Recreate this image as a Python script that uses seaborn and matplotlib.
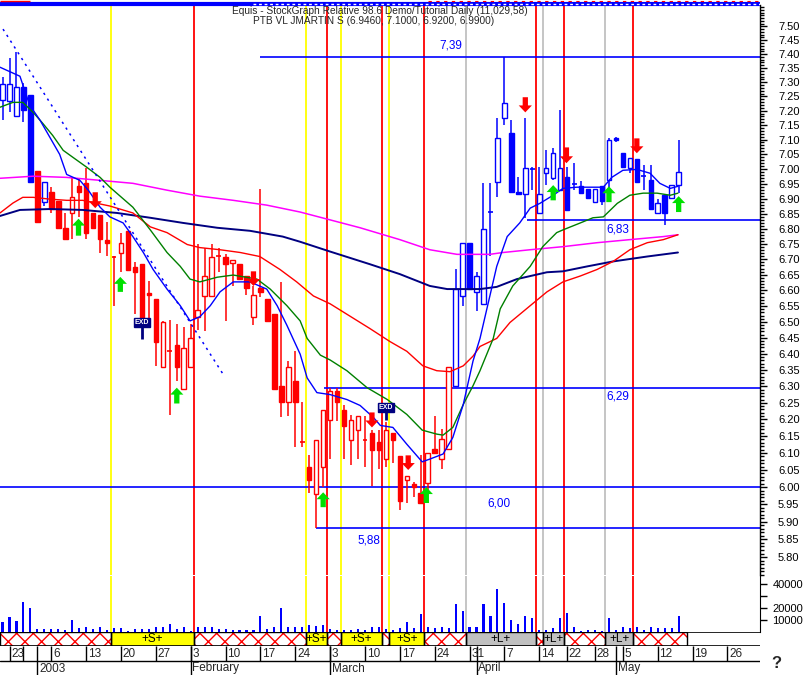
import matplotlib
matplotlib.use('Agg')
import matplotlib.pyplot as plt
import matplotlib.ticker as mticker
from matplotlib.patches import Rectangle
import numpy as np
import seaborn as sns

sns.set_style('white')
plt.rcParams['font.family'] = ['Liberation Sans', 'DejaVu Sans']
plt.rcParams['hatch.linewidth'] = 1.0

BLUE = '#0000ff'
RED = '#ff0000'
NAVY = '#000080'
GREEN_MA = '#008000'
MAGENTA = '#ff00ff'
YELLOW = '#ffff00'
GRAY = '#c0c0c0'
ARROW_GREEN = '#00e000'

# ---------------- data (trading-day index, Dec 20 2002 = -1) ----------------
first_day = -1
opens = [7.236, 7.233, 7.180, 7.282, 7.254, 6.992, 6.888, 6.921, 6.891, 6.803,
         6.852, 6.941, 6.951, 6.852, 6.845, 6.764, 6.709, 6.722, 6.793, 6.674,
         6.684, 6.590, 6.573, 6.360, 6.411, 6.426, 6.293, 6.360, 6.516, 6.582,
         6.582, 6.711, 6.706, 6.687, 6.684, 6.646, 6.516, 6.608, 6.573, 6.526,
         6.302, 6.251, 6.317, 6.133, 6.060, 5.980, 6.058, 6.197, 6.287, 6.227,
         6.138, 6.167, 6.141, 6.159, 6.133, 6.082, 6.159, 6.091, 6.020, 6.009,
         5.983, 6.012, 6.111, 6.082, 6.111, 6.302, 6.582, 6.754, 6.595, 6.557,
         6.857, 6.955, 7.173, 7.121, 6.921, 6.914, 7.002, 6.852, 6.985, 6.968,
         6.928, 6.972, 6.951, 6.941, 6.931, 6.888, 6.941, 6.961, 7.104, 7.053,
         7.002, 7.033, 6.978, 6.961, 6.852, 6.911, 6.901, 6.946]
highs = [7.318, 7.386, 7.407, 7.296, 7.254, 6.992, 6.955, 6.938, 6.891, 6.852,
         6.968, 6.965, 7.002, 6.852, 6.845, 6.822, 6.709, 6.787, 6.793, 6.690,
         6.684, 6.630, 6.573, 6.503, 6.506, 6.494, 6.485, 6.494, 6.751, 6.738,
         6.751, 6.738, 6.716, 6.697, 6.684, 6.646, 6.614, 6.931, 6.573, 6.526,
         6.627, 6.378, 6.408, 6.251, 6.095, 6.138, 6.227, 6.296, 6.296, 6.242,
         6.212, 6.209, 6.209, 6.168, 6.168, 6.192, 6.159, 6.091, 6.032, 6.015,
         6.093, 6.099, 6.209, 6.171, 6.360, 6.667, 6.754, 6.754, 6.658, 6.951,
         6.951, 7.173, 7.390, 7.166, 6.972, 7.173, 7.005, 7.005, 7.063, 7.070,
         7.201, 7.005, 7.019, 6.960, 6.931, 6.931, 6.941, 7.104, 7.110, 7.053,
         7.036, 7.033, 7.012, 7.012, 6.900, 6.911, 6.945, 7.100]
lows = [7.166, 7.197, 7.180, 7.159, 6.955, 6.822, 6.874, 6.852, 6.803, 6.767,
        6.767, 6.839, 6.767, 6.803, 6.722, 6.709, 6.551, 6.658, 6.664, 6.526,
        6.503, 6.503, 6.363, 6.360, 6.212, 6.317, 6.293, 6.360, 6.473, 6.470,
        6.582, 6.658, 6.503, 6.614, 6.636, 6.585, 6.489, 6.579, 6.503, 6.293,
        6.206, 6.209, 6.118, 6.118, 5.982, 5.883, 6.000, 6.082, 6.194, 6.082,
        6.065, 6.082, 6.060, 6.003, 6.053, 6.058, 6.070, 5.934, 5.954, 5.971,
        5.954, 5.990, 6.099, 6.053, 6.111, 6.302, 6.551, 6.604, 6.535, 6.557,
        6.709, 6.904, 7.150, 6.921, 6.914, 6.836, 6.928, 6.852, 6.945, 6.961,
        6.928, 6.862, 6.928, 6.918, 6.901, 6.888, 6.878, 6.894, 7.090, 7.005,
        6.985, 6.955, 6.928, 6.865, 6.852, 6.813, 6.900, 6.920]
closes = [7.293, 7.293, 7.282, 7.204, 6.955, 6.822, 6.955, 6.865, 6.803, 6.767,
          6.904, 6.921, 6.787, 6.803, 6.767, 6.754, 6.707, 6.754, 6.664, 6.658,
          6.503, 6.585, 6.438, 6.498, 6.408, 6.360, 6.417, 6.448, 6.538, 6.646,
          6.706, 6.709, 6.684, 6.697, 6.636, 6.608, 6.585, 6.595, 6.503, 6.293,
          6.251, 6.360, 6.251, 6.130, 6.020, 6.138, 6.227, 6.287, 6.251, 6.179,
          6.197, 6.209, 6.138, 6.108, 6.108, 6.168, 6.138, 5.960, 6.032, 6.000,
          5.954, 6.099, 6.099, 6.141, 6.360, 6.604, 6.754, 6.604, 6.646, 6.800,
          6.855, 7.104, 7.226, 6.921, 6.914, 7.002, 6.998, 6.914, 7.002, 7.053,
          7.002, 6.862, 6.948, 6.918, 6.901, 6.931, 6.891, 7.097, 7.097, 7.005,
          7.036, 6.955, 6.975, 6.865, 6.884, 6.852, 6.945, 6.990]
candle_side = ('bbbbbrbrrrrrrrrrrrrrrrrrrrrrrrrrrrrrrrrrrrrrrrrrrrrrrrrrrrrrrrrrr'
               'bbbbbbbbbbbbbbbbbbbbbbbbbbbbbbbbb')
volumes = [8600, 12200, 9200, 24700, 19700, 2200, 2200, 2500, 2500, 1400,
           10000, 3600, 4200, 2200, 4200, 1900, 3600, 3300, 1100, 2500,
           2800, 2500, 4200, 4200, 6900, 2500, 4200, 1100, 3900, 4400,
           4400, 2500, 2500, 1700, 1400, 1400, 1900, 13300, 2500, 4400,
           19700, 4200, 4200, 4200, 5800, 5000, 5800, 2200, 1700, 1700,
           1900, 2500, 1700, 4200, 4200, 2500, 1700, 3100, 8600, 3100,
           14700, 4200, 3100, 4200, 3100, 23000, 17500, 4200, 4200, 23000,
           13300, 36000, 24400, 10000, 6400, 13300, 11400, 1700, 1700, 3100,
           11400, 15600, 4400, 1100, 1700, 1700, 800, 11900, 1700, 3900,
           3600, 3900, 1700, 3900, 3100, 3100, 3100, 13300]

ma_blue_x = [-1.36, 1.5, 2.9, 4.4, 7.2, 8.2, 10.1, 11.3, 13.0, 14.4, 16.3, 17.7, 19.2, 20.6,
             22.6, 24.5, 25.9, 27.3, 28.8, 30.2, 32.1, 34.5, 36.9, 38.4, 39.8, 41.7, 42.7,
             44.1, 46.0, 48.4, 50.3, 52.2, 53.2, 55.0, 57.0, 59.2, 60.3, 62.2, 63.6, 65.1,
             66.5, 67.5, 69.9, 71.4, 73.2, 74.7, 76.1, 78.0, 79.4, 81.4, 83.3, 85.2, 86.4,
             88.0, 90.0, 91.9, 93.3, 94.8, 95.9]
ma_blue_y = [7.353, 7.321, 7.219, 7.166, 7.049, 6.981, 6.961, 6.928, 6.871, 6.839, 6.819,
             6.774, 6.722, 6.667, 6.604, 6.551, 6.503, 6.516, 6.551, 6.595, 6.627, 6.627,
             6.604, 6.551, 6.489, 6.399, 6.326, 6.281, 6.275, 6.260, 6.242, 6.206, 6.182,
             6.176, 6.126, 6.074, 6.082, 6.097, 6.146, 6.245, 6.378, 6.448, 6.677, 6.774,
             6.819, 6.868, 6.884, 6.911, 6.934, 6.938, 6.938, 6.938, 6.971, 6.995, 6.998,
             6.985, 6.951, 6.934, 6.941]
ma_green_x = [-1.36, 0.5, 1.9, 3.4, 4.8, 6.2, 7.7, 9.1, 11.1, 13.0, 14.4, 17.7, 20.2, 22.6,
              24.5, 25.9, 27.3, 29.8, 32.1, 35.5, 37.4, 39.8, 41.7, 42.7, 44.6, 46.0, 48.4,
              51.3, 54.2, 57.0, 59.2, 61.3, 62.2, 63.6, 65.1, 66.5, 67.5, 69.4, 70.4, 72.2,
              74.7, 76.5, 78.5, 79.4, 81.9, 83.7, 85.2, 87.2, 89.0, 90.9, 92.9, 94.8, 95.9]
ma_green_y = [7.212, 7.229, 7.229, 7.194, 7.155, 7.114, 7.063, 7.039, 7.005, 6.971, 6.938,
              6.871, 6.796, 6.722, 6.677, 6.636, 6.627, 6.642, 6.649, 6.636, 6.604, 6.551,
              6.503, 6.448, 6.396, 6.381, 6.348, 6.296, 6.260, 6.215, 6.168, 6.156, 6.153,
              6.176, 6.245, 6.302, 6.348, 6.448, 6.541, 6.614, 6.677, 6.741, 6.787, 6.796,
              6.819, 6.836, 6.839, 6.884, 6.911, 6.918, 6.918, 6.911, 6.918]
ma_red_x = [-1.36, 0.5, 1.9, 3.4, 5.8, 8.2, 10.5, 14.4, 17.7, 20.2, 22.6, 25.5, 27.3, 30.2,
            33.1, 35.9, 38.8, 41.2, 43.6, 46.0, 51.7, 54.6, 57.0, 59.3, 61.3, 63.2, 65.1,
            66.5, 67.5, 69.9, 71.8, 74.7, 77.1, 79.4, 81.9, 84.3, 86.6, 89.0, 91.5, 93.8, 95.9]
ma_red_y = [6.852, 6.885, 6.904, 6.904, 6.898, 6.894, 6.894, 6.875, 6.852, 6.806, 6.787,
            6.748, 6.738, 6.731, 6.722, 6.709, 6.667, 6.627, 6.582, 6.557, 6.479, 6.438,
            6.408, 6.363, 6.348, 6.345, 6.363, 6.393, 6.423, 6.448, 6.498, 6.551, 6.595,
            6.627, 6.646, 6.667, 6.693, 6.731, 6.754, 6.764, 6.780]
ma_magenta_x = [-1.36, 3.4, 8.2, 13.0, 17.7, 22.6, 27.3, 32.1, 36.9, 41.7, 46.0, 50.3, 56.0,
                60.3, 64.2, 68.9, 70.8, 74.7, 79.4, 84.3, 89.0, 93.8, 95.9]
ma_magenta_y = [6.968, 6.975, 6.971, 6.961, 6.951, 6.928, 6.908, 6.894, 6.878, 6.855, 6.829,
                6.803, 6.764, 6.731, 6.716, 6.716, 6.722, 6.731, 6.741, 6.754, 6.764, 6.774,
                6.780]
ma_navy_x = [-1.36, 1.5, 5.8, 10.5, 15.4, 20.2, 24.9, 29.8, 34.5, 39.2, 41.7, 46.0, 51.7,
             56.0, 60.3, 62.8, 67.5, 69.9, 72.8, 77.1, 79.4, 82.9, 86.6, 91.5, 95.9]
ma_navy_y = [6.842, 6.862, 6.865, 6.862, 6.852, 6.836, 6.819, 6.803, 6.793, 6.774, 6.757,
             6.725, 6.684, 6.652, 6.614, 6.604, 6.604, 6.611, 6.636, 6.658, 6.661, 6.677,
             6.693, 6.709, 6.722]

trend_x = [-0.93, 30.8]
trend_y = [7.490, 6.332]

level_values = [7.39, 6.83, 6.295, 6.00, 5.883]
level_starts = [35.9, 74.3, 45.1, -1.4, 44.0]
level_texts = ['7,39', '6,83', '6,29', '6,00', '5,88']
level_text_x = [63.3, 87.3, 87.3, 70.2, 51.6]
level_text_y = [7.43, 6.796, 6.269, 5.954, 5.848]

yellow_lines = [14.5, 42.5, 47.5, 54.5]
red_lines = [26.5, 45.5, 53.5, 59.5, 75.5, 79.5, 89.5]
gray_lines = [65.5, 76.5, 85.5]

up_arrow_x = [9.9, 15.9, 24.0, 45.0, 59.8, 78.0, 86.0, 96.0]
up_arrow_tip = [6.833, 6.643, 6.296, 5.985, 6.000, 6.945, 6.941, 6.908]
up_arrow_base = [6.777, 6.595, 6.248, 5.942, 5.954, 6.894, 6.888, 6.855]
down_arrow_x = [12.3, 35.0, 52.0, 57.2, 74.0, 79.9, 90.0]
down_arrow_base = [6.921, 6.661, 6.221, 6.093, 7.247, 7.073, 7.104]
down_arrow_tip = [6.868, 6.614, 6.176, 6.050, 7.194, 7.019, 7.053]

exd_x = [19.0, 54.0]
exd_y = [6.497, 6.236]
exd_stem = [6.445, 6.197]

signal_bounds = [-1.363, 14.5, 26.5, 42.5, 45.5, 47.5, 53.5, 54.5, 59.5, 65.5,
                 75.5, 76.5, 79.5, 85.5, 89.5, 97.2]
signal_kinds = ['', 'S', '', 'S', '', 'S', '', 'S', '', 'L', '', 'L', '', 'L', '']

date_ticks = [0, 2, 6, 11, 16, 21, 26, 31, 36, 41, 46, 51, 56, 61, 66, 71, 76, 80, 84,
              88, 93, 98, 103]
date_labels = ['23', '', '6', '13', '20', '27', '3', '10', '17', '24', '3', '10', '17',
               '24', '31', '7', '14', '22', '28', '5', '12', '19', '26']
month_ticks = [4, 26, 46, 67, 87]
month_labels = ['2003', 'February', 'March', 'April', 'May']

header_line1 = 'Equis - StockGraph Relative 98.6 Demo/Tutorial Daily (11,029,58)'
header_line2 = 'PTB VL JMARTIN S (6.9460, 7.1000, 6.9200, 6.9900)'

# ---------------- figure layout ----------------
W, H = 807, 675
X_LO, X_HI = -1.363, 107.67
fig = plt.figure(figsize=(W / 100, H / 100), dpi=100)
fig.patch.set_facecolor('white')


def box(top, bottom, right=760):
    return [0, 1 - bottom / H, right / W, (bottom - top) / H]


ax = fig.add_axes(box(5, 575))
axv = fig.add_axes(box(576, 632))
axs = fig.add_axes(box(632, 646))
axd = fig.add_axes(box(646, 675))
axt = fig.add_axes(box(0, 7))
for a in (ax, axv, axs, axd, axt):
    a.patch.set_visible(False)
    for s in a.spines.values():
        s.set_visible(False)
    a.set_xlim(X_LO, X_HI)

days = np.arange(first_day, first_day + len(opens))

# ---------------- price panel ----------------
ax.set_yscale('log')
for xs_, col in [(yellow_lines, YELLOW), (red_lines, RED), (gray_lines, GRAY)]:
    for x in xs_:
        ax.axvline(x, color=col, lw=1.3, zorder=1)
        axv.axvline(x, color=col, lw=1.3, zorder=1)

for lv, st in zip(level_values, level_starts):
    ax.hlines(lv, st, X_HI, color=BLUE, lw=1.2, zorder=2)
for t, tx, ty in zip(level_texts, level_text_x, level_text_y):
    ax.text(tx, ty, t, color=BLUE, fontsize=8.5, ha='center', va='center', zorder=7)

for xs, ys, col, lw in [(ma_magenta_x, ma_magenta_y, MAGENTA, 1.1),
                        (ma_navy_x, ma_navy_y, NAVY, 1.4),
                        (ma_red_x, ma_red_y, RED, 1.0),
                        (ma_green_x, ma_green_y, GREEN_MA, 1.0),
                        (ma_blue_x, ma_blue_y, BLUE, 1.0)]:
    sns.lineplot(x=xs, y=ys, ax=ax, color=col, linewidth=lw, estimator=None,
                 sort=False, legend=False, zorder=5)

ax.plot(trend_x, trend_y, color=BLUE, lw=1.1, linestyle=(0, (1.5, 3)), zorder=5)

for d, o, h, l, c, side in zip(days, opens, highs, lows, closes, candle_side):
    col = BLUE if side == 'b' else RED
    ax.vlines(d, l, h, color=col, lw=1.1, zorder=3)
    lo, hi = min(o, c), max(o, c)
    if hi - lo < 0.004:
        ax.hlines((o + c) / 2, d - 0.35, d + 0.35, color=col, lw=1.2, zorder=4)
    else:
        ax.bar(d, hi - lo, bottom=lo, width=0.65,
               facecolor='white' if c > o else col, edgecolor=col, lw=1.0, zorder=4)

arrow_style = 'simple,head_length=0.5,head_width=0.95,tail_width=0.38'
for x, tip, base in zip(up_arrow_x, up_arrow_tip, up_arrow_base):
    ax.annotate('', xy=(x, tip), xytext=(x, base),
                arrowprops=dict(arrowstyle=arrow_style, fc=ARROW_GREEN, ec=ARROW_GREEN, lw=0,
                                shrinkA=0, shrinkB=0, mutation_scale=10), zorder=6)
for x, tip, base in zip(down_arrow_x, down_arrow_tip, down_arrow_base):
    ax.annotate('', xy=(x, tip), xytext=(x, base),
                arrowprops=dict(arrowstyle=arrow_style, fc=RED, ec=RED, lw=0,
                                shrinkA=0, shrinkB=0, mutation_scale=10), zorder=6)

for x, y, s in zip(exd_x, exd_y, exd_stem):
    ax.vlines(x, s, y, color=NAVY, lw=2, zorder=6)
    ax.text(x, y, 'EXD', fontsize=5, color='white', ha='center', va='center', zorder=7,
            fontweight='bold', bbox=dict(boxstyle='square,pad=0.12', fc=NAVY, ec=NAVY))

ax.set_xlim(X_LO, X_HI)
ax.set_ylim(5.750, 7.578)
ax.spines['right'].set_visible(True)
ax.spines['right'].set_color('black')
ax.spines['right'].set_linewidth(1)
ax.yaxis.tick_right()
ax.yaxis.set_major_locator(mticker.FixedLocator(np.round(np.arange(5.80, 7.501, 0.05), 2)))
ax.yaxis.set_minor_locator(mticker.FixedLocator(np.round(np.arange(5.75, 7.58, 0.01), 2)))
ax.yaxis.set_major_formatter(mticker.FormatStrFormatter('%.2f'))
ax.yaxis.set_minor_formatter(mticker.NullFormatter())
ax.tick_params(axis='y', which='major', length=5, width=1, pad=8, labelsize=8,
               direction='out', colors='black', right=True, left=False)
ax.tick_params(axis='y', which='minor', length=3, width=1, direction='out',
               colors='black', right=True, left=False)
ax.tick_params(axis='x', which='both', bottom=False, labelbottom=False)
ax.set_xlabel('')
ax.set_ylabel('')

# ---------------- volume panel ----------------
axv.bar(days, volumes, width=0.3, color=BLUE, lw=0, zorder=3)
axv.set_xlim(X_LO, X_HI)
axv.set_ylim(0, 46667)
axv.spines['right'].set_visible(True)
axv.spines['right'].set_color('black')
axv.yaxis.tick_right()
axv.yaxis.set_major_locator(mticker.FixedLocator([10000, 20000, 30000, 40000]))
axv.yaxis.set_major_formatter(mticker.FuncFormatter(
    lambda v, p: '' if v == 30000 else f'{int(v)}'))
axv.tick_params(axis='y', length=5, width=1, pad=4, labelsize=8, direction='out',
                colors='black', right=True, left=False)
axv.tick_params(axis='x', bottom=False, labelbottom=False)

# ---------------- signal strip ----------------
axs.set_ylim(0, 1)
for x0, x1, k in zip(signal_bounds[:-1], signal_bounds[1:], signal_kinds):
    if k == '':
        axs.add_patch(Rectangle((x0, 0), x1 - x0, 1, facecolor='white', edgecolor=RED,
                                hatch='xx', lw=0, zorder=1))
    else:
        axs.add_patch(Rectangle((x0, 0), x1 - x0, 1, facecolor=YELLOW if k == 'S' else GRAY,
                                lw=0, zorder=1))
        axs.text((x0 + x1) / 2, 0.5, f'+{k}+', ha='center', va='center', fontsize=8.5,
                 color='black', zorder=3)
    axs.add_patch(Rectangle((x0, 0), x1 - x0, 1, fill=False, edgecolor='black',
                            lw=1, zorder=2))
axs.axhline(1, color='black', lw=1.2, zorder=4)
axs.axhline(0, color='black', lw=1.2, zorder=4)
axs.set_xticks([])
axs.set_yticks([])

# ---------------- date axis ----------------
axd.set_ylim(29, 0)
axd.axhline(15, color='black', lw=1)
for t, lab in zip(date_ticks, date_labels):
    axd.vlines(t, 0, 15, color='black', lw=1)
    axd.text(t + 0.25, 7.8, lab, ha='left', va='center', fontsize=8.5)
for t, lab in zip(month_ticks, month_labels):
    axd.vlines(t, 0, 29, color='black', lw=1)
    axd.text(t + 0.25, 22.5, lab, ha='left', va='center', fontsize=8.5)
axd.set_xticks([])
axd.set_yticks([])

# ---------------- top band and header ----------------
axt.set_ylim(7, 0)
axt.hlines(3.5, X_LO, X_HI, color=BLUE, lw=3)
axt.hlines(3.5, 35, X_HI, color='white', lw=1, linestyles=(0, (2, 2)))
axt.hlines(1.2, X_LO, 3, color=RED, lw=1)
axt.hlines(1.2, 60, X_HI, color=RED, lw=0.8, linestyles=(0, (3, 4)))
axt.set_xticks([])
axt.set_yticks([])

fig.text(232 / W, 1 - 6 / H, header_line1, fontsize=7.3, va='top', ha='left')
fig.text(253 / W, 1 - 15.5 / H, header_line2, fontsize=7.3, va='top', ha='left')
fig.text(776 / W, 1 - 664 / H, '?', fontsize=12, fontweight='bold', ha='center', va='center')

fig.savefig('out.png', dpi=100)
